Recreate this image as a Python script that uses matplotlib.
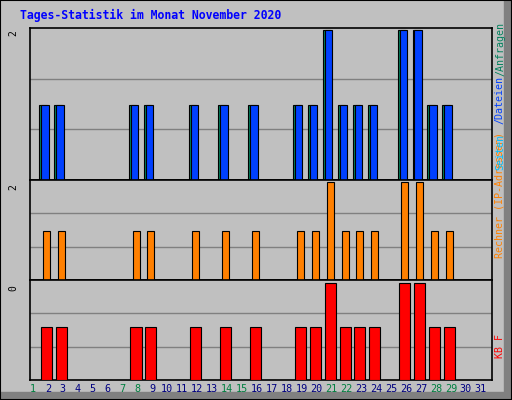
import matplotlib
matplotlib.use("Agg")
import matplotlib.pyplot as plt
from matplotlib.patches import Rectangle

days = list(range(1, 32))
active = [2,3,8,9,12,14,16,19,20,21,22,23,24,26,27,28,29]
peak = [21, 26, 27]
hits = [2 if d in peak else (1 if d in active else 0) for d in days]
files = hits[:]
hosts = [2 if d in peak else (1 if d in active else 0) for d in days]
kbytes = [0.0 if d not in active else (1.0 if d in peak else 0.55) for d in days]
weekend = [1,7,8,14,15,21,22,28,29]

W, H = 512, 400
fig = plt.figure(figsize=(W/100, H/100), dpi=100, facecolor="#C0C0C0")
fig.patches.append(Rectangle((0,0),1,1,transform=fig.transFigure,fill=False,ec="black",lw=1.5))
fig.patches.append(Rectangle((1-8/W,0),8/W,1,transform=fig.transFigure,color="#808080",zorder=0))
fig.patches.append(Rectangle((0,0),1,8/H,transform=fig.transFigure,color="#808080",zorder=0))

def ax_px(x0, y0, x1, y1):
    return fig.add_axes([x0/W, 1-y1/H, (x1-x0)/W, (y1-y0)/H])

x0, x1 = 30, 492
xlim = (1-3/14.93, 1+(x1-33)/14.93)

def style(ax, ymax):
    ax.set_facecolor("#C0C0C0")
    ax.set_xlim(*xlim); ax.set_ylim(0, ymax)
    ax.set_xticks([]); ax.set_yticks([])
    for s in ax.spines.values():
        s.set_color("black"); s.set_linewidth(1.2)
    for g in (ymax/3, 2*ymax/3):
        ax.axhline(g, color="#808080", lw=1, zorder=1)

ax1 = ax_px(x0, 28, x1, 180)
style(ax1, 2.03)
ax1.bar([d-0.33 for d in days], hits, width=0.5, color="#00805C", ec="black", lw=0.8, zorder=2)
ax1.bar([d-0.2 for d in days], files, width=0.5, color="#0040FF", ec="black", lw=0.8, zorder=3)

ax2 = ax_px(x0, 180, x1, 280)
style(ax2, 2.05)
ax2.bar([d-0.1 for d in days], hosts, width=0.47, color="#FF8000", ec="black", lw=0.8, zorder=3)

ax3 = ax_px(x0, 280, x1, 380)
style(ax3, 1.03)
ax3.bar([d-0.1 for d in days], kbytes, width=0.74, color="#FF0000", ec="black", lw=0.8, zorder=3)

mono = "DejaVu Sans Mono"
fig.text(20/W, 1-15/H, "Tages-Statistik im Monat November 2020", family=mono,
         weight="bold", size=8.3, color="#0000FF", va="center")

for d in days:
    px = 33 + (d-1)*14.93
    fig.text(px/W, 1-389/H, str(d), family=mono, size=7.3, ha="center", va="center",
             color="#008040" if d in weekend else "#000080")

for y, t in [(30, "2"), (184, "2"), (285, "0")]:
    fig.text(13/W, 1-y/H, t, family=mono, size=7, rotation=90, ha="center", va="top")

def vt(ybot, s, c):
    fig.text(500/W, 1-ybot/H, s, family=mono, size=7.2, rotation=90, ha="center", va="bottom", color=c)

vt(258, "Rechner (IP-Adressen)", "#FF8000")
vt(170, "Seiten", "#00C0FF")
vt(124, "/Dateien", "#0040FF")
vt(76, "/Anfragen", "#00805C")
vt(358, "KB F", "#FF0000")

fig.savefig("out.png", dpi=100, facecolor=fig.get_facecolor())
